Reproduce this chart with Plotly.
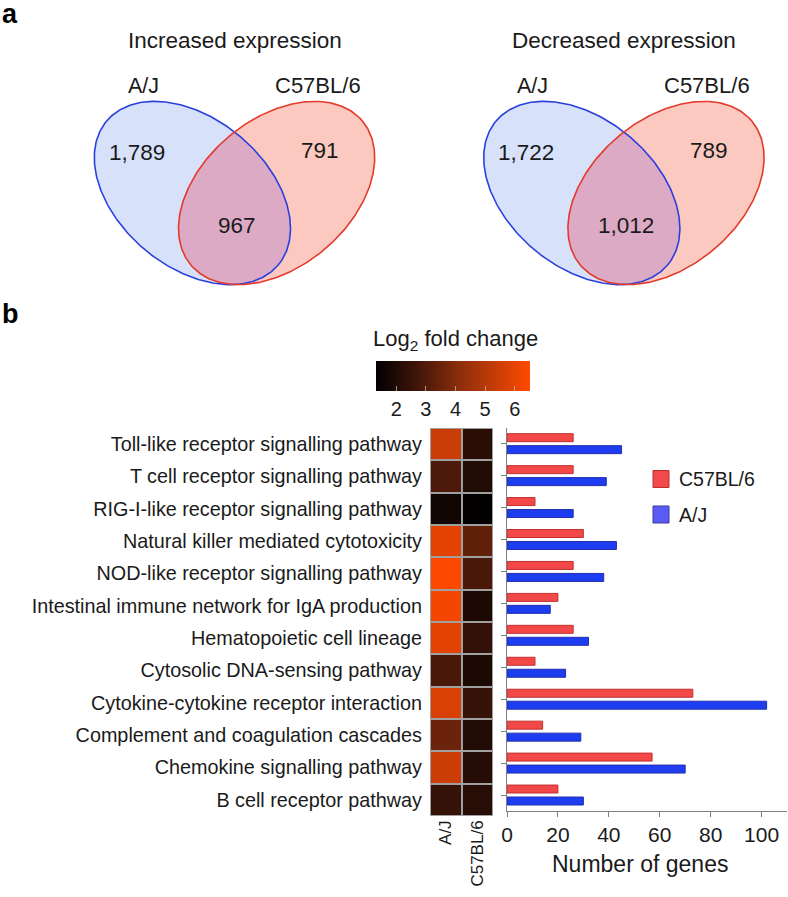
import numpy as np
import plotly.graph_objects as go

# ---------------- data ----------------
venn_titles = ["Increased expression", "Decreased expression"]
venn_set_names = ["A/J", "C57BL/6"]
venn_aj_only = [1789, 1722]
venn_c57_only = [791, 789]
venn_shared = [967, 1012]

pathways = [
    "Toll-like receptor signalling pathway",
    "T cell receptor signalling pathway",
    "RIG-I-like receptor signalling pathway",
    "Natural killer mediated cytotoxicity",
    "NOD-like receptor signalling pathway",
    "Intestinal immune network for IgA production",
    "Hematopoietic cell lineage",
    "Cytosolic DNA-sensing pathway",
    "Cytokine-cytokine receptor interaction",
    "Complement and coagulation cascades",
    "Chemokine signalling pathway",
    "B cell receptor pathway",
]
strains = ["A/J", "C57BL/6"]
log2fc_aj = [5.4, 2.9, 1.7, 5.9, 6.45, 6.25, 5.9, 2.85, 5.7, 3.5, 5.45, 2.45]
log2fc_c57 = [2.2, 2.0, 1.35, 3.3, 2.85, 1.9, 2.4, 1.9, 2.5, 2.0, 2.1, 2.15]
genes_c57 = [26, 26, 11, 30, 26, 20, 26, 11, 73, 14, 57, 20]
genes_aj = [45, 39, 26, 43, 38, 17, 32, 23, 102, 29, 70, 30]
colorbar_ticks = [2, 3, 4, 5, 6]
gene_ticks = [0, 20, 40, 60, 80, 100]

# ---------------- layout helpers ----------------
W, H = 788, 897
FONT = "Liberation Sans, Arial, Helvetica, sans-serif"
TXT = "#1a1a1a"


def fx(px):
    return px / W


def fy(py):
    return 1 - py / H


def ellipse_pts(cx, cy, a, b, theta_deg, n=361):
    t = np.linspace(0, 2 * np.pi, n)
    th = np.radians(theta_deg)
    x = cx + a * np.cos(t) * np.cos(th) - b * np.sin(t) * np.sin(th)
    y = cy + a * np.cos(t) * np.sin(th) + b * np.sin(t) * np.cos(th)
    return x, y


def inside(x, y, cx, cy, a, b, theta_deg):
    th = np.radians(theta_deg)
    dx, dy = x - cx, y - cy
    u = dx * np.cos(th) + dy * np.sin(th)
    v = -dx * np.sin(th) + dy * np.cos(th)
    return (u / a) ** 2 + (v / b) ** 2 <= 1.0 + 1e-9


def label(px, py, text, size, xanchor="center", bold=False, color=TXT):
    return dict(x=fx(px), y=fy(py), text=f"<b>{text}</b>" if bold else text, showarrow=False,
                xref="paper", yref="paper", xanchor=xanchor, yanchor="middle",
                font=dict(size=size, color=color, family=FONT))


fig = go.Figure()

# ---------------- Venn diagrams (pixel-space axis) ----------------
EA, EB, ETH = 112, 74, 40
venn_centers = [234.5, 623.9]
annotations = []
for i in range(2):
    sx = venn_centers[i]
    bc = (sx - 42.1, 193)
    rc = (sx + 42.1, 193)
    bx, by = ellipse_pts(bc[0], bc[1], EA, EB, ETH)
    rx, ry = ellipse_pts(rc[0], rc[1], EA, EB, -ETH)
    fig.add_trace(go.Scatter(x=bx, y=by, mode="lines", fill="toself",
                             fillcolor="#d7e2fa", line=dict(width=0),
                             xaxis="x3", yaxis="y3", hoverinfo="skip", showlegend=False))
    fig.add_trace(go.Scatter(x=rx, y=ry, mode="lines", fill="toself",
                             fillcolor="#fbc9bf", line=dict(width=0),
                             xaxis="x3", yaxis="y3", hoverinfo="skip", showlegend=False))
    # lens (intersection of the two ellipses)
    mb = inside(bx, by, rc[0], rc[1], EA, EB, -ETH)
    mr = inside(rx, ry, bc[0], bc[1], EA, EB, ETH)
    lx = np.concatenate([bx[mb], rx[mr]])
    ly = np.concatenate([by[mb], ry[mr]])
    ang = np.arctan2(ly - ly.mean(), lx - lx.mean())
    o = np.argsort(ang)
    lx, ly = np.append(lx[o], lx[o][0]), np.append(ly[o], ly[o][0])
    fig.add_trace(go.Scatter(x=lx, y=ly, mode="lines", fill="toself",
                             fillcolor="#dcaac4", line=dict(width=0),
                             xaxis="x3", yaxis="y3", hoverinfo="skip", showlegend=False))
    fig.add_trace(go.Scatter(x=bx, y=by, mode="lines", line=dict(color="#2a40de", width=1.6),
                             xaxis="x3", yaxis="y3", hoverinfo="skip", showlegend=False))
    fig.add_trace(go.Scatter(x=rx, y=ry, mode="lines", line=dict(color="#e43a2c", width=1.6),
                             xaxis="x3", yaxis="y3", hoverinfo="skip", showlegend=False))

    annotations.append(label(sx, 40, venn_titles[i], 22.5))
    annotations.append(label(sx - 91, 86, venn_set_names[0], 21.5))
    annotations.append(label(sx + 83, 86, venn_set_names[1], 22))
    annotations.append(label(sx - 97.5, 152, f"{venn_aj_only[i]:,}", 22.5))
    annotations.append(label(sx + 85.5, 151, f"{venn_c57_only[i]:,}", 22.5))
    annotations.append(label(sx + 2, 225, f"{venn_shared[i]:,}", 22.5))

# panel letters
annotations.append(label(10, 14, "a", 27, bold=True, color="#000"))
annotations.append(label(10, 314, "b", 27, bold=True, color="#000"))

# ---------------- heatmap ----------------
z = np.column_stack([log2fc_aj, log2fc_c57])
colorscale = [[0.0, "#000000"], [0.25, "#3c1409"], [0.55, "#8e2e0c"], [1.0, "#ff4a00"]]
fig.add_trace(go.Heatmap(
    z=z, x=strains, y=pathways, colorscale=colorscale, zmin=1.3, zmax=6.5,
    xgap=2, ygap=2, xaxis="x", yaxis="y", hoverinfo="skip",
    colorbar=dict(orientation="h", x=fx(452.5), xanchor="center", y=fy(360.7), yanchor="top",
                  len=153.6, lenmode="pixels", thickness=30, xpad=0, ypad=0,
                  outlinewidth=0, tickvals=colorbar_ticks, ticks="inside", ticklen=5,
                  tickcolor="rgba(200,200,200,0.7)",
                  tickfont=dict(size=20, color=TXT, family=FONT)),
))
annotations.append(label(455, 340, "Log<sub>2</sub> fold change", 22))

# ---------------- bars ----------------
fig.add_trace(go.Bar(x=genes_c57, y=pathways, orientation="h", name="C57BL/6",
                     marker=dict(color="#f24848", line=dict(color="#c43030", width=1)),
                     xaxis="x2", yaxis="y2", showlegend=False, hoverinfo="skip"))
fig.add_trace(go.Bar(x=genes_aj, y=pathways, orientation="h", name="A/J",
                     marker=dict(color="#1e3df0", line=dict(color="#2030b0", width=1)),
                     xaxis="x2", yaxis="y2", showlegend=False, hoverinfo="skip"))

# manual legend
legend_items = [("C57BL/6", "#f24a4a", "#b83030", 479), ("A/J", "#5a5af5", "#3c3c9c", 514.5)]
shapes = [
    dict(type="rect", xref="x", yref="y", x0=-0.5, x1=1.5, y0=-0.5, y1=len(pathways) - 0.5,
         fillcolor="#a0a0a0", line=dict(width=0), layer="below"),
]
for name, fc, lc, cy in legend_items:
    shapes.append(dict(type="rect", xref="paper", yref="paper", x0=fx(653), x1=fx(669),
                       y0=fy(cy + 8.5), y1=fy(cy - 8.5), fillcolor=fc, line=dict(color=lc, width=1)))
    annotations.append(label(677, cy, name, 19.5, xanchor="left"))

# bar axis title
annotations.append(label(640, 864, "Number of genes", 23))

AXC = "#808080"
fig.update_layout(
    width=W, height=H, autosize=False,
    margin=dict(l=0, r=0, t=0, b=0, pad=0),
    paper_bgcolor="white", plot_bgcolor="rgba(0,0,0,0)",
    font=dict(family=FONT, color=TXT),
    barmode="group", bargap=0.25, bargroupgap=0.333,
    xaxis=dict(domain=[fx(430), fx(493)], anchor="y", showgrid=False, zeroline=False,
               automargin=False, tickangle=-90, ticks="",
               tickfont=dict(size=17, color=TXT), fixedrange=True),
    yaxis=dict(domain=[fy(816), fy(428)], anchor="x", autorange="reversed", showgrid=False,
               zeroline=False, automargin=False, ticks="", ticklabelstandoff=7,
               tickfont=dict(size=19.8, color=TXT), fixedrange=True),
    xaxis2=dict(domain=[fx(507), fx(787)], anchor="y2", range=[0, 110], tickvals=gene_ticks,
                showgrid=False, zeroline=False, showline=True, linecolor=AXC, linewidth=1.2,
                automargin=False, ticks="outside", ticklen=5, tickcolor=AXC,
                tickfont=dict(size=21, color=TXT), fixedrange=True),
    yaxis2=dict(domain=[fy(811), fy(427.7)], anchor="x2", autorange="reversed", showgrid=False,
                zeroline=False, showline=True, linecolor=AXC, linewidth=1.2, ticks="outside",
                automargin=False, ticklen=5, tickcolor=AXC, showticklabels=False,
                fixedrange=True),
    xaxis3=dict(domain=[0, 1], anchor="y3", range=[0, W], visible=False, fixedrange=True,
                automargin=False),
    yaxis3=dict(domain=[0, 1], anchor="x3", range=[H, 0], visible=False, fixedrange=True,
                automargin=False),
    annotations=annotations,
    shapes=shapes,
)

fig.write_html("out.html", config={"displayModeBar": False},
               post_script="document.body.style.margin='0px';")
